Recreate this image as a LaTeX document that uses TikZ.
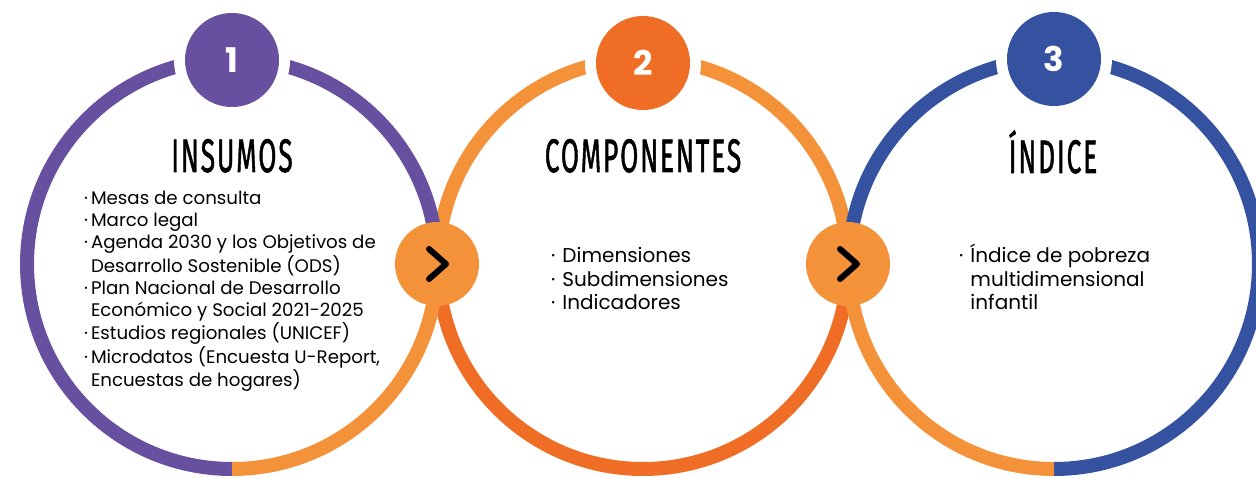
\documentclass[tikz,border=0pt]{standalone}
\usepackage{fontspec}
\setmainfont{Poppins}
\newfontfamily\headfont{Fira Sans}[FakeBold=1.5, LetterSpace=7]
\definecolor{purpura}{HTML}{67509F}
\definecolor{naranja}{HTML}{F4923A}
\definecolor{naranjaosc}{HTML}{EF6D24}
\definecolor{azul}{HTML}{3452A0}
\newcommand{\titulo}[1]{\scalebox{0.56}[1]{\headfont\fontsize{47}{47}\selectfont #1}}

\begin{document}
\begin{tikzpicture}[x=1pt, y=1pt,
    ring/.style={line width=14pt},
    numdisc/.style={circle, minimum size=94pt, inner sep=0pt, text=white,
      font=\fontsize{34}{34}\selectfont\bfseries, preaction={draw=white, line width=22pt}},
    nextdisc/.style={circle, fill=naranja, minimum size=84pt, inner sep=0pt},
    chevron/.style={line width=6pt, line cap=round, line join=round},
    head/.style={anchor=base, inner sep=0pt},
    lista/.style={anchor=base west, inner sep=0pt}]
  \useasboundingbox (0,0) rectangle (1256,477);

  \coordinate (c1) at (232,213);
  \coordinate (c2) at (643,213);
  \coordinate (c3) at (1054,213);

  \draw[ring, naranja] (c2) ++(0:205) arc[start angle=0, end angle=180, radius=205];
  \draw[ring, naranjaosc] (c2) ++(180:205) arc[start angle=180, end angle=360, radius=205];
  \draw[ring, purpura] (c1) ++(0:205) arc[start angle=0, end angle=270, radius=205];
  \draw[ring, naranja] (c1) ++(270:205) arc[start angle=270, end angle=360, radius=205];
  \draw[ring, azul] (c3) ++(-90:205) arc[start angle=-90, end angle=180, radius=205];
  \draw[ring, naranja] (c3) ++(180:205) arc[start angle=180, end angle=270, radius=205];

  \node[numdisc, fill=purpura] (n1) at (232,417) {1};
  \node[numdisc, fill=naranjaosc] (n2) at (643,414) {2};
  \node[numdisc, fill=azul] (n3) at (1054,418) {3};

  \node[nextdisc] (a1) at (437,213) {};
  \node[nextdisc] (a2) at (848,213) {};
  \draw[chevron] ([shift={(-8,15)}]a1.center) -- ([shift={(9,0)}]a1.center) -- ([shift={(-8,-15)}]a1.center);
  \draw[chevron] ([shift={(-8,15)}]a2.center) -- ([shift={(9,0)}]a2.center) -- ([shift={(-8,-15)}]a2.center);

  \node[head] (t1) at (232,305) {\titulo{INSUMOS}};
  \node[head] (t2) at (643,305) {\titulo{COMPONENTES}};
  \node[head] (t3) at (1053,304) {\titulo{ÍNDICE}};

  \node[lista, font=\fontsize{18.2}{21.9}\selectfont] (l1) at (84,272) {%
    \begin{tabular}[t]{@{}l@{\hspace{3pt}}l@{}}
      · & Mesas de consulta\\
      · & Marco legal\\
      · & Agenda 2030 y los Objetivos de\\
        & Desarrollo Sostenible (ODS)\\
      · & Plan Nacional de Desarrollo\\
        & Económico y Social 2021-2025\\
      · & Estudios regionales (UNICEF)\\
      · & Microdatos (Encuesta U-Report,\\
        & Encuestas de hogares)
    \end{tabular}};
  \node[lista, font=\fontsize{20}{23.5}\selectfont] (l2) at (551,214) {%
    \begin{tabular}[t]{@{}l@{\hspace{7pt}}l@{}}
      · & Dimensiones\\
      · & Subdimensiones\\
      · & Indicadores
    \end{tabular}};
  \node[lista, font=\fontsize{20}{23.5}\selectfont] (l3) at (959,214) {%
    \begin{tabular}[t]{@{}l@{\hspace{7pt}}l@{}}
      · & Índice de pobreza\\
        & multidimensional\\
        & infantil
    \end{tabular}};
\end{tikzpicture}
\end{document}
